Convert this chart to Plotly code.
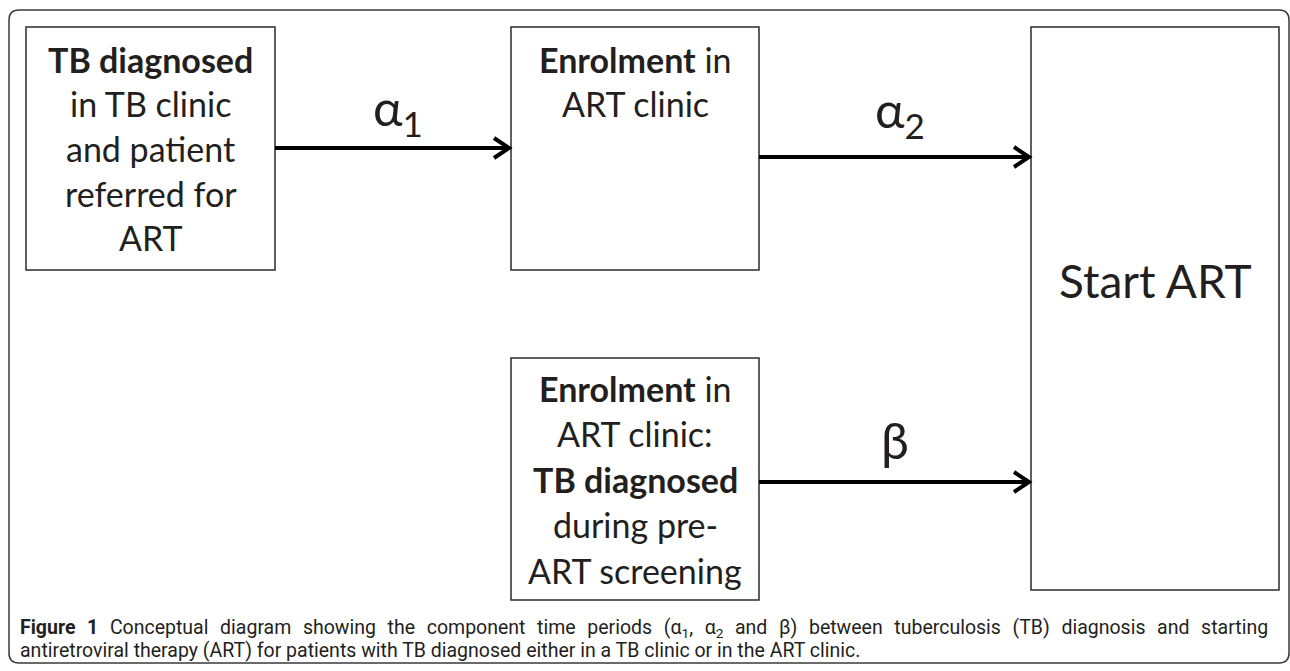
import plotly.graph_objects as go

W, H = 1290, 671

# ---- diagram content ----
box_names = ["tb_clinic", "enrol", "enrol_tb", "start"]
box_lines = {
    "tb_clinic": ["<b>TB diagnosed</b>", "in TB clinic", "and patient", "referred for", "ART"],
    "enrol": ["<b>Enrolment</b> in", "ART clinic"],
    "enrol_tb": ["<b>Enrolment</b> in", "ART clinic:", "<b>TB diagnosed</b>", "during pre-", "ART screening"],
    "start": ["Start ART"],
}
edge_from = ["tb_clinic", "enrol", "enrol_tb"]
edge_to = ["enrol", "start", "start"]
edge_labels = ["α<sub>1</sub>", "α<sub>2</sub>", "β"]

caption_lines = [
    "<b>Figure 1</b> Conceptual diagram showing the component time periods (α<sub>1</sub>, α<sub>2</sub> and β) between tuberculosis (TB) diagnosis and starting",
    "antiretroviral therapy (ART) for patients with TB diagnosed either in a TB clinic or in the ART clinic.",
]

# ---- geometry / style ----
geom = {  # x0, x1, y0, y1 (pixels, y down)
    "tb_clinic": (26, 275, 27, 270),
    "enrol": (511, 759, 27, 270),
    "enrol_tb": (511, 759, 358, 600),
    "start": (1031, 1279, 27, 590),
}
text_top = {"tb_clinic": 59, "enrol": 59, "enrol_tb": 388, "start": 280}
line_gap = {"tb_clinic": 44.7, "enrol": 44.7, "enrol_tb": 45.5, "start": 0}
edge_y = [148, 157, 482]
label_y = [110, 112, 440]
TXT = "#231f20"
FONT = "Lato, Open Sans, sans-serif"

fig = go.Figure()
shapes = []
annotations = []

# outer rounded frame
r = 10
fx0, fx1, fy0, fy1 = 9, 1289, 10, 663
frame = (f"M {fx0+r},{fy0} L {fx1-r},{fy0} Q {fx1},{fy0} {fx1},{fy0+r} "
         f"L {fx1},{fy1-r} Q {fx1},{fy1} {fx1-r},{fy1} L {fx0+r},{fy1} "
         f"Q {fx0},{fy1} {fx0},{fy1-r} L {fx0},{fy0+r} Q {fx0},{fy0} {fx0+r},{fy0} Z")
shapes.append(dict(type="path", path=frame, xref="x", yref="y",
                   line=dict(color="#3a3a3a", width=1.5)))

for name in box_names:
    x0, x1, y0, y1 = geom[name]
    shapes.append(dict(type="rect", x0=x0, x1=x1, y0=y0, y1=y1, xref="x", yref="y",
                       line=dict(color="#2b2b2b", width=1.5), fillcolor="white"))
    cx = (x0 + x1) / 2
    size = 46 if name == "start" else 34
    for i, ln in enumerate(box_lines[name]):
        annotations.append(dict(x=cx, y=text_top[name] + i * line_gap[name], xref="x", yref="y",
                                text=ln, showarrow=False, xanchor="center", yanchor="middle",
                                font=dict(family=FONT, size=size, color=TXT)))

for k, (a, b) in enumerate(zip(edge_from, edge_to)):
    xs = geom[a][1]
    xe = geom[b][0]
    y = edge_y[k]
    shapes.append(dict(type="line", x0=xs, x1=xe - 2, y0=y, y1=y, xref="x", yref="y",
                       line=dict(color="black", width=4)))
    shapes.append(dict(type="path", xref="x", yref="y",
                       path=f"M {xe-17},{y-10} L {xe-2},{y} L {xe-17},{y+10}",
                       line=dict(color="black", width=4)))
    annotations.append(dict(x=(xs + xe) / 2 + (5 if k < 2 else 0), y=label_y[k], xref="x", yref="y",
                            text=edge_labels[k], showarrow=False, xanchor="center", yanchor="middle",
                            font=dict(family=FONT, size=50, color=TXT)))

cap_y = [628, 650]
cap_spacing = ["6.8px", "0px"]
for i, ln in enumerate(caption_lines):
    annotations.append(dict(x=18, y=cap_y[i], xref="x", yref="y",
                            text=f'<span style="word-spacing:{cap_spacing[i]}">{ln}</span>',
                            showarrow=False, xanchor="left", yanchor="middle",
                            font=dict(family="Roboto, sans-serif", size=19.5, color=TXT)))

fig.update_layout(
    width=W, height=H, margin=dict(l=0, r=0, t=0, b=0),
    paper_bgcolor="white", plot_bgcolor="white",
    xaxis=dict(range=[0, W], visible=False, fixedrange=True),
    yaxis=dict(range=[H, 0], visible=False, fixedrange=True),
    shapes=shapes, annotations=annotations, showlegend=False,
)
fig.write_html("out.html", config={"displayModeBar": False},
               post_script="document.body.style.margin='0';document.body.style.overflow='hidden';")
